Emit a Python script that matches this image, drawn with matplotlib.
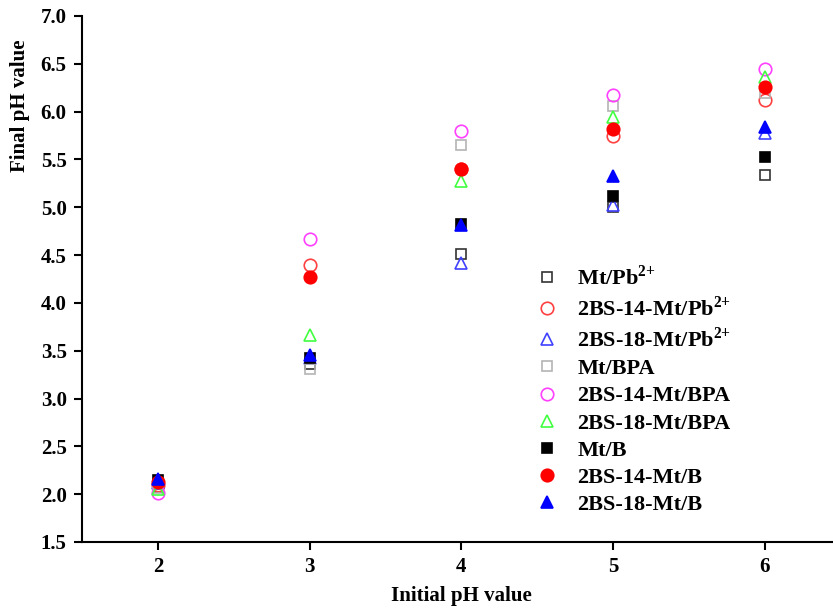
import matplotlib
matplotlib.use("agg")
from matplotlib import pyplot as plt

plt.rcParams["font.family"] = ["Liberation Serif", "DejaVu Serif"]
plt.rcParams["font.weight"] = "bold"
plt.rcParams["mathtext.fontset"] = "custom"
plt.rcParams["mathtext.rm"] = "Liberation Serif"
plt.rcParams["mathtext.bf"] = "Liberation Serif:bold"

initial_ph = [2, 3, 4, 5, 6]

labels = [
    r"Mt/Pb$^{\mathbf{2{+}}}$",
    r"2BS-14-Mt/Pb$^{\mathbf{2{+}}}$",
    r"2BS-18-Mt/Pb$^{\mathbf{2{+}}}$",
    "Mt/BPA",
    "2BS-14-Mt/BPA",
    "2BS-18-Mt/BPA",
    "Mt/B",
    "2BS-14-Mt/B",
    "2BS-18-Mt/B",
]

mt_pb = [2.08, 3.36, 4.51, 5.00, 5.34]
bs14_pb = [2.10, 4.40, 5.40, 5.75, 6.12]
bs18_pb = [2.12, 3.42, 4.42, 5.02, 5.78]
mt_bpa = [2.06, 3.31, 5.65, 6.06, 6.19]
bs14_bpa = [2.01, 4.67, 5.80, 6.17, 6.45]
bs18_bpa = [2.05, 3.66, 5.27, 5.94, 6.36]
mt_b = [2.15, 3.42, 4.83, 5.12, 5.53]
bs14_b = [2.13, 4.27, 5.40, 5.82, 6.26]
bs18_b = [2.16, 3.46, 4.81, 5.33, 5.84]

series = [mt_pb, bs14_pb, bs18_pb, mt_bpa, bs14_bpa, bs18_bpa, mt_b, bs14_b, bs18_b]
markers = ["s", "o", "^", "s", "o", "^", "s", "o", "^"]
colors = ["#333333", "#ff4040", "#4040ff", "#b4b4b4", "#ff40ff", "#40ff40",
          "#000000", "#ff0000", "#0000ff"]
filled = [False] * 6 + [True] * 3
sizes = {"s": 7.5, "o": 9, "^": 9}

fig = plt.figure(figsize=(8.33, 6.10), dpi=100)
ax = fig.add_axes([0.0984, 0.1115, 0.911, 0.8623])

for vals, mk, c, f, lab in zip(series, markers, colors, filled, labels):
    ax.plot(initial_ph, vals, linestyle="none", marker=mk, markersize=sizes[mk],
            markeredgecolor=c, markerfacecolor=c if f else "none",
            markeredgewidth=1.2, label=lab)

ax.set_xlim(1.5, 6.5)
ax.set_ylim(1.5, 7.0)
ax.set_xticks(initial_ph)
ax.set_yticks([1.5 + 0.5 * i for i in range(12)])
ax.yaxis.set_major_formatter(matplotlib.ticker.FormatStrFormatter("%.1f"))
ax.spines["top"].set_visible(False)
ax.spines["right"].set_visible(False)
for s in ["left", "bottom"]:
    ax.spines[s].set_linewidth(1.5)
ax.tick_params(direction="out", length=6, width=1.5, labelsize=15, pad=5)
for t in ax.get_xticklabels() + ax.get_yticklabels():
    t.set_fontweight("bold")

ax.set_xlabel("Initial pH value", fontsize=15, fontweight="bold", labelpad=6)
ax.set_ylabel("Final pH value", fontsize=15, fontweight="bold", labelpad=8)
ax.yaxis.set_label_coords(-0.068, 0.83)

leg = ax.legend(loc="upper left", bbox_to_anchor=(0.587, 0.544), frameon=False,
                prop={"size": 16, "weight": "bold"}, handletextpad=0.85,
                labelspacing=0.3, borderaxespad=0, handlelength=1.0)

fig.savefig("out.png", dpi=100)
